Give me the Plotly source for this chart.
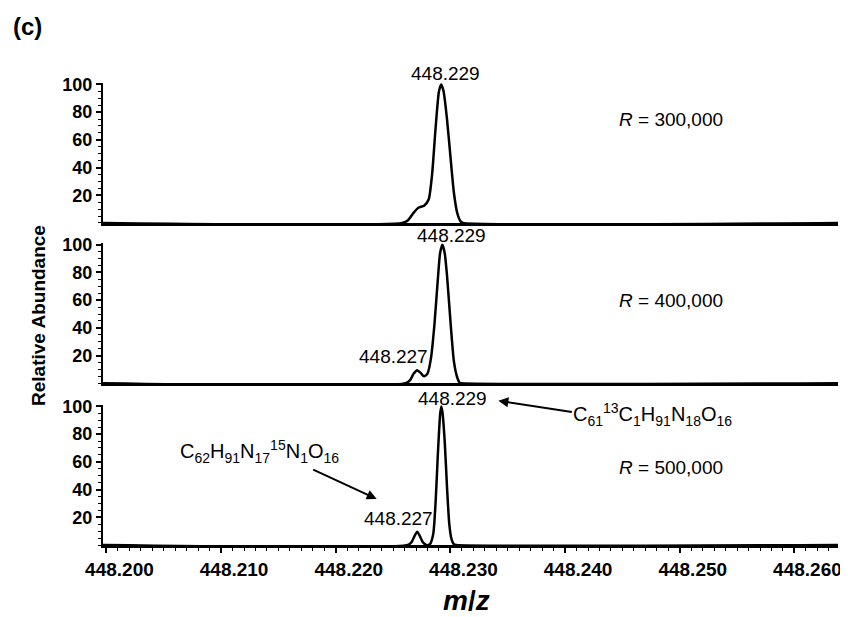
import plotly.graph_objects as go

# ---------------- data ----------------
# R = 300,000 profile
mz_300 = [448.1997, 448.2258, 448.2263, 448.2268, 448.2272, 448.2277, 448.2281, 448.2284,
          448.2287, 448.2290, 448.2292, 448.2294, 448.2297, 448.2300, 448.2303, 448.2306,
          448.2309, 448.2311, 448.2638]
ab_300 = [0, 0, 2, 7.5, 11, 12.5, 17, 35, 68, 95, 100, 95, 75, 48, 22, 7, 1, 0, 0]

# R = 400,000 profile
mz_400 = [448.1997, 448.2261, 448.2265, 448.2268, 448.2271, 448.2274, 448.2277, 448.2280,
          448.2283, 448.2286, 448.2289, 448.2291, 448.2293, 448.2295, 448.2297, 448.2300,
          448.2303, 448.2306, 448.2308, 448.2310, 448.2638]
ab_400 = [0, 0, 2.5, 7, 9.5, 7.5, 5, 7, 18, 42, 75, 94, 100, 94, 78, 45, 16, 4, 0.5, 0, 0]

# R = 500,000 profile
mz_500 = [448.1997, 448.2263, 448.2266, 448.2269, 448.2271, 448.2273, 448.2276, 448.2279,
          448.2282, 448.2285, 448.2287, 448.2289, 448.2291, 448.2292, 448.2293, 448.2295,
          448.2297, 448.2299, 448.2301, 448.2303, 448.2305, 448.2638]
ab_500 = [0, 0, 2, 7, 9.6, 7, 2, 0, 0.5, 8, 30, 65, 94, 100, 96, 75, 42, 15, 4, 0.5, 0, 0]

main_peak_mz = 448.2292
minor_peak_mz = 448.2271
main_peak_label = "448.229"
minor_peak_label = "448.227"
resolutions = ["300,000", "400,000", "500,000"]
minor_peak_heights = [9.5, 9.6]

x_range = [448.1997, 448.2638]
y_range = [0, 101]
y_tickvals = [20, 40, 60, 80, 100]
x_tick0 = 448.200
x_dtick = 0.010

formula_13C = "C<sub>61</sub><sup>13</sup>C<sub>1</sub>H<sub>91</sub>N<sub>18</sub>O<sub>16</sub>"
formula_15N = "C<sub>62</sub>H<sub>91</sub>N<sub>17</sub><sup>15</sup>N<sub>1</sub>O<sub>16</sub>"

# ---------------- figure ----------------
FONT = "Liberation Sans"
fig = go.Figure()

line_style = dict(color="black", width=2.5, shape="spline", smoothing=0.6)
fig.add_trace(go.Scatter(x=mz_300, y=ab_300, mode="lines", line=line_style,
                         xaxis="x2", yaxis="y", showlegend=False, hoverinfo="skip"))
fig.add_trace(go.Scatter(x=mz_400, y=ab_400, mode="lines", line=line_style,
                         xaxis="x3", yaxis="y2", showlegend=False, hoverinfo="skip"))
fig.add_trace(go.Scatter(x=mz_500, y=ab_500, mode="lines", line=line_style,
                         xaxis="x", yaxis="y3", showlegend=False, hoverinfo="skip"))

yaxis_common = dict(
    range=y_range, showline=True, linecolor="black", linewidth=2,
    ticks="outside", ticklen=5, tickwidth=1.5, tickcolor="black",
    tickvals=y_tickvals, showgrid=False, zeroline=False, automargin=False,
    tickfont=dict(family=FONT, size=18, color="black", weight="bold"),
    minor=dict(dtick=5, tick0=0, ticks="outside", ticklen=3, tickwidth=1, tickcolor="black", showgrid=False),
    fixedrange=True,
)

# The page body has an 8px default margin, so the figure is 8px smaller than the window
fig.update_layout(
    width=840, height=609,
    margin=dict(l=95, r=10, t=75, b=72),
    paper_bgcolor="white", plot_bgcolor="white",
    font=dict(family=FONT, color="black"),
    xaxis=dict(
        range=x_range, anchor="y3", showline=True, linecolor="black", linewidth=3,
        ticks="outside", ticklen=5, tickwidth=1.5, tickcolor="black",
        tick0=x_tick0, dtick=x_dtick, tickformat=".3f", showgrid=False, zeroline=False,
        automargin=False,
        tickfont=dict(family=FONT, size=19, color="black", weight="bold"),
        ticklabelshift=13,
        minor=dict(dtick=0.001, ticks="outside", ticklen=3, tickwidth=1, tickcolor="black", showgrid=False),
    ),
    xaxis2=dict(range=x_range, anchor="y", matches="x", showline=True, linecolor="black", linewidth=3,
                showticklabels=False, ticks="", showgrid=False, zeroline=False, automargin=False),
    xaxis3=dict(range=x_range, anchor="y2", matches="x", showline=True, linecolor="black", linewidth=3,
                showticklabels=False, ticks="", showgrid=False, zeroline=False, automargin=False),
    yaxis=dict(domain=[0.697, 1.0], anchor="x2", **yaxis_common),
    yaxis2=dict(domain=[0.350, 0.653], anchor="x3", **yaxis_common),
    yaxis3=dict(domain=[0.0, 0.303], anchor="x", **yaxis_common),
)

label_font = dict(family=FONT, size=19, color="black")
formula_font = dict(family=FONT, size=20, color="black")
ann = []
# main peak labels
for yref, xs, ys in [("y", 4, 10.4), ("y2", 10, 9.7), ("y3", 11, 8)]:
    ann.append(dict(x=main_peak_mz, y=100, xref="x", yref=yref, text=main_peak_label,
                    showarrow=False, xshift=xs, yshift=ys, xanchor="center", yanchor="middle", font=label_font))
# minor peak labels
for yref, h, xs, ys in [("y2", minor_peak_heights[0], -24, 14), ("y3", minor_peak_heights[1], -19, 13.4)]:
    ann.append(dict(x=minor_peak_mz, y=h, xref="x", yref=yref, text=minor_peak_label,
                    showarrow=False, xshift=xs, yshift=ys, xanchor="center", yanchor="middle", font=label_font))
# resolution labels
for yref, yv, res in [("y", 74.5, resolutions[0]), ("y2", 60.1, resolutions[1]), ("y3", 56.1, resolutions[2])]:
    ann.append(dict(x=448.2492, y=yv, xref="x", yref=yref, text="<i>R</i> = " + res,
                    showarrow=False, xanchor="center", yanchor="middle", font=label_font))
# formulas
ann.append(dict(x=448.24762, y=93.8, xref="x", yref="y3", text=formula_13C,
                showarrow=False, xanchor="center", yanchor="middle", font=formula_font))
ann.append(dict(x=448.21339, y=67.3, xref="x", yref="y3", text=formula_15N,
                showarrow=False, xanchor="center", yanchor="middle", font=formula_font))
# arrows
ann.append(dict(x=448.23418, y=100, xref="x", yref="y3", text="", showarrow=True,
                ax=75, ay=11.6, yshift=5.7, arrowhead=2, arrowsize=1, arrowwidth=2, arrowcolor="black"))
ann.append(dict(x=448.22357, y=33.2, xref="x", yref="y3", text="", showarrow=True,
                ax=-65, ay=-30, arrowhead=2, arrowsize=1, arrowwidth=2, arrowcolor="black"))
# axis titles and panel letter
ann.append(dict(x=(38 - 103) / 735, y=(545 - 316) / 462, xref="paper", yref="paper",
                text="<b>Relative Abundance</b>", textangle=-90, showarrow=False,
                xanchor="center", yanchor="middle",
                font=dict(family=FONT, size=19, color="black")))
ann.append(dict(x=(466 - 103) / 735, y=(545 - 600) / 462, xref="paper", yref="paper",
                text="<b><i>m</i>/<i>z</i></b>", showarrow=False, xanchor="center", yanchor="middle",
                font=dict(family=FONT, size=28, color="black")))
ann.append(dict(x=(11 - 103) / 735, y=(545 - 26) / 462, xref="paper", yref="paper",
                text="<b>(c)</b>", showarrow=False, xanchor="left", yanchor="middle",
                font=dict(family=FONT, size=24, color="black")))
fig.update_layout(annotations=ann)

fig.write_html("out.html", config={"displayModeBar": False})
